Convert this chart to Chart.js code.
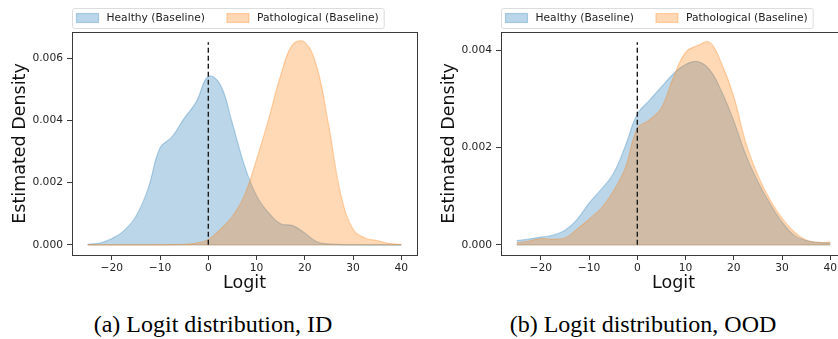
<!DOCTYPE html>
<html>
<head>
<meta charset="utf-8">
<script src="https://cdn.jsdelivr.net/npm/chart.js@4.4.1/dist/chart.umd.min.js"></script>
<style>
  html, body { margin: 0; padding: 0; background: #fff; overflow: hidden; width: 838px; height: 339px; }
  .panel { position: absolute; top: 0; width: 420px; height: 300px; }
  .caption {
    position: absolute; top: 312px; white-space: nowrap;
    font-family: "Liberation Serif", "Times New Roman", serif;
    font-size: 24px; line-height: 24px; color: #000;
    transform: translateX(-50%);
  }
</style>
</head>
<body>
<div class="panel" style="left:0px"><canvas id="chartID" width="420" height="300"></canvas></div>
<div class="panel" style="left:429px"><canvas id="chartOOD" width="420" height="300"></canvas></div>
<div class="caption" style="left:213px">(a) Logit distribution, ID</div>
<div class="caption" style="left:643px">(b) Logit distribution, OOD</div>

<script>
// ---- data (densities, in units of 1e-3) ----
const DENSITY_UNIT = 1e-3;
const logit = [-25, -22.5, -20, -17.5, -15, -12.5, -10, -7.5, -5, -2.5, 0, 2.5, 5,
               7.5, 10, 12.5, 15, 17.5, 20, 22.5, 25, 27.5, 30, 32.5, 35, 37.5, 40];

// (a) ID
const idHealthy = [0.02, 0.06, 0.2, 0.45, 0.92, 1.8, 3.12, 3.48, 4.07, 4.6, 5.42, 5.15, 3.9,
                   2.55, 1.58, 1.03, 0.68, 0.62, 0.38, 0.1, 0.03, 0.01, 0, 0, 0, 0, 0];
const idPatho   = [0, 0, 0, 0, 0, 0, 0, 0.01, 0.02, 0.06, 0.17, 0.5, 0.92,
                   1.6, 2.75, 4.05, 5.46, 6.45, 6.52, 5.72, 3.8, 1.6, 0.5, 0.22, 0.14, 0.05, 0.01];

// (b) OOD
const oodHealthy = [0.09, 0.12, 0.16, 0.2, 0.3, 0.52, 0.86, 1.14, 1.46, 2.03, 2.69, 2.97, 3.25,
                    3.52, 3.71, 3.77, 3.6, 3.15, 2.55, 1.85, 1.3, 0.85, 0.47, 0.2, 0.09, 0.05, 0.04];
const oodPatho   = [0.04, 0.08, 0.13, 0.12, 0.14, 0.32, 0.53, 0.75, 1.1, 1.58, 2.4, 2.57, 2.82,
                    3.45, 3.96, 4.1, 4.17, 3.72, 3.05, 2.1, 1.43, 0.93, 0.55, 0.27, 0.1, 0.05, 0.06];

const seriesLabels = ["Healthy (Baseline)", "Pathological (Baseline)"];
const threshold = 0;
const xTicks = [-20, -10, 0, 10, 20, 30, 40];
const idYTicks = [0, 0.002, 0.004, 0.006];
const oodYTicks = [0, 0.002, 0.004];

const BLUE = 'rgba(31,119,180,0.3)';
const ORANGE = 'rgba(255,127,14,0.3)';
const FONT = '"DejaVu Sans", sans-serif';

// ---- plugins ----
// zero baseline of each filled curve (matplotlib strokes the whole polygon)
const baseline = {
  id: 'baseline',
  afterDatasetDraw(chart, args) {
    const ds = chart.data.datasets[args.index];
    if (!ds.fill) return;
    const xs = chart.scales.x, ys = chart.scales.y, ctx = chart.ctx;
    ctx.save();
    ctx.strokeStyle = ds.borderColor;
    ctx.lineWidth = ds.borderWidth;
    ctx.beginPath();
    ctx.moveTo(xs.getPixelForValue(logit[0]), ys.getPixelForValue(0));
    ctx.lineTo(xs.getPixelForValue(logit[logit.length - 1]), ys.getPixelForValue(0));
    ctx.stroke();
    ctx.restore();
  }
};

// axes frame + matplotlib-like legend box above the plot
const frameAndLegend = {
  id: 'frameAndLegend',
  afterDraw(chart) {
    const ctx = chart.ctx, a = chart.chartArea;
    ctx.save();
    ctx.strokeStyle = '#3a3a3a';
    ctx.lineWidth = 1;
    ctx.strokeRect(Math.round(a.left) + 0.5, Math.round(a.top) + 0.5,
                   Math.round(a.width), Math.round(a.height));

    ctx.font = '10.7px ' + FONT;
    // legend entries in the order of seriesLabels
    const items = seriesLabels.map(l => chart.data.datasets.find(d => d.label === l));
    let x = a.left + 4.5;
    const pos = items.map(d => {
      const p = { d: d, x: x };
      x += 22 + 8 + ctx.measureText(d.label).width + 22;
      return p;
    });
    const w = x - 22 + 5 - a.left;
    ctx.beginPath();
    ctx.roundRect(a.left + 0.5, 8.5, w, 20, 2);
    ctx.fillStyle = '#fff';
    ctx.fill();
    ctx.strokeStyle = '#dcdcdc';
    ctx.stroke();

    pos.forEach(p => {
      ctx.fillStyle = p.d.backgroundColor;
      ctx.fillRect(p.x, 13.5, 22, 9);
      ctx.strokeStyle = p.d.borderColor;
      ctx.lineWidth = 1.2;
      ctx.strokeRect(p.x, 13.5, 22, 9);
      ctx.fillStyle = '#222';
      ctx.textBaseline = 'middle';
      ctx.fillText(p.d.label, p.x + 30, 18.5);
    });
    ctx.restore();
  }
};

function toPoints(values) {
  return logit.map((x, i) => ({ x: x, y: values[i] * DENSITY_UNIT }));
}

function makeChart(canvasId, healthy, patho, yTicks) {
  const peak = Math.max(...healthy, ...patho) * DENSITY_UNIT;
  const xSpan = logit[logit.length - 1] - logit[0];

  new Chart(document.getElementById(canvasId), {
    type: 'line',
    data: {
      datasets: [
        {
          label: 'threshold', data: [{ x: threshold, y: 0 }, { x: threshold, y: peak }],
          borderColor: '#1a1a1a', borderWidth: 1.4, borderDash: [5, 3],
          pointRadius: 0, fill: false, order: 1
        },
        {
          label: seriesLabels[1], data: toPoints(patho),
          borderColor: ORANGE, backgroundColor: ORANGE, borderWidth: 1.2,
          pointRadius: 0, fill: 'origin', tension: 0.4, order: 2
        },
        {
          label: seriesLabels[0], data: toPoints(healthy),
          borderColor: BLUE, backgroundColor: BLUE, borderWidth: 1.2,
          pointRadius: 0, fill: 'origin', tension: 0.4, order: 3
        }
      ]
    },
    options: {
      responsive: false,
      animation: false,
      devicePixelRatio: 1,
      layout: { padding: { top: 32, right: 3, left: 0, bottom: 0 } },
      plugins: { legend: { display: false }, tooltip: { enabled: false } },
      scales: {
        x: {
          type: 'linear',
          min: logit[0] - 0.05 * xSpan,
          max: logit[logit.length - 1] + 0.05 * xSpan,
          afterFit(s) { s.height = 45; },
          afterBuildTicks(s) { s.ticks = xTicks.map(v => ({ value: v })); },
          border: { display: false },
          grid: { drawOnChartArea: false, drawTicks: true, tickLength: 5, color: '#3a3a3a' },
          ticks: {
            padding: 2, color: '#262626', autoSkip: false, maxRotation: 0,
            font: { family: FONT, size: 10.7 },
            callback: v => (v < 0 ? '\u2212' + (-v) : String(v))
          },
          title: {
            display: true, text: 'Logit', color: '#111',
            font: { family: FONT, size: 17.5 }, padding: { top: 0, bottom: 6 }
          }
        },
        y: {
          type: 'linear',
          min: -0.05 * peak,
          max: 1.05 * peak,
          afterFit(s) { s.width = 72; },
          afterBuildTicks(s) { s.ticks = yTicks.map(v => ({ value: v })); },
          border: { display: false },
          grid: { drawOnChartArea: false, drawTicks: true, tickLength: 5, color: '#3a3a3a' },
          ticks: {
            padding: 4, color: '#262626', autoSkip: false,
            font: { family: FONT, size: 10.7 },
            callback: v => v.toFixed(3)
          },
          title: {
            display: true, text: 'Estimated Density', color: '#111',
            font: { family: FONT, size: 17.5 }, padding: { top: 10, bottom: 0 }
          }
        }
      }
    },
    plugins: [baseline, frameAndLegend]
  });
}

makeChart('chartID', idHealthy, idPatho, idYTicks);
makeChart('chartOOD', oodHealthy, oodPatho, oodYTicks);
</script>
</body>
</html>
